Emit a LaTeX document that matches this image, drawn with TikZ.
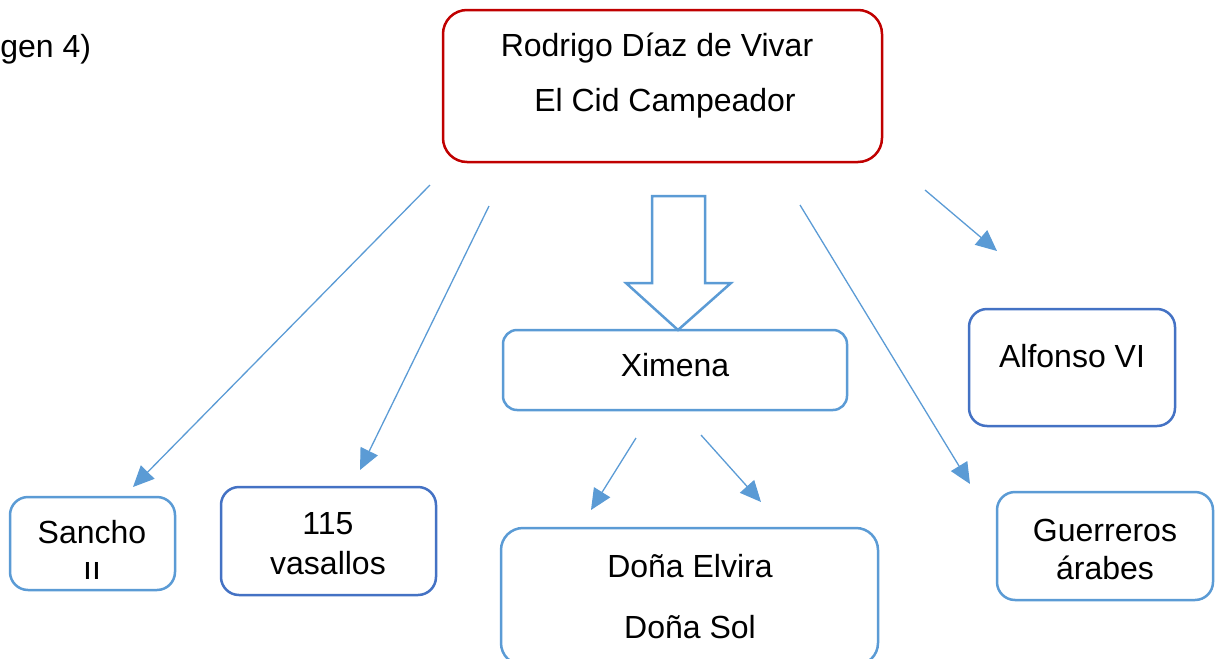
\documentclass[tikz,border=0pt]{standalone}
\usepackage{fontspec}
\setmainfont{Liberation Sans}
\usetikzlibrary{arrows.meta}
\definecolor{lblue}{HTML}{5B9BD5}
\definecolor{dblue}{HTML}{4472C4}
\definecolor{redb}{HTML}{C00000}
\tikzset{
  box/.style={draw=lblue, line width=1.25pt, rounded corners=9pt, fill=white, inner sep=0pt},
  dbox/.style={box, draw=dblue},
  rbox/.style={box, draw=redb, rounded corners=12pt},
  lbl/.style={font=\fontsize{16}{18}\selectfont, inner sep=0pt},
  conn/.style={draw=lblue, line width=0.65pt, -{Triangle[length=10.5pt,width=9.5pt]}},
  blockarrow/.style={draw=lblue, line width=1.25pt, fill=white, line join=miter}
}
\begin{document}
\begin{tikzpicture}[x=0.5pt,y=-0.5pt]
\useasboundingbox (0,0) rectangle (1222,659);
\clip (0,0) rectangle (1222,659);
% top box
\node[rbox, minimum width=219.5pt, minimum height=76pt] (cid) at (662.5,86) {};
\node[lbl] (cid1) at (657,48) {Rodrigo Díaz de Vivar};
\node[lbl] (cid2) at (665,103) {El Cid Campeador};
\node[lbl, anchor=west] (img) at (0,49) {gen 4)};
% boxes
\node[box, rounded corners=7pt, minimum width=172pt, minimum height=40pt] (xim) at (675,370) {};
\node[lbl] (ximt) at (675,365) {Ximena};
\node[dbox, minimum width=103pt, minimum height=58.5pt] (alf) at (1072,367.5) {};
\node[lbl] (alft) at (1072,356) {Alfonso VI};
\node[box, minimum width=82.5pt, minimum height=46.5pt] (san) at (92.5,543.5) {};
\node[lbl] (sant) at (92,532) {Sancho};
\begin{scope}
\clip (12,500) rectangle (173,578);
\node[lbl] (sant2) at (92,573) {II};
\end{scope}
\node[dbox, minimum width=107.5pt, minimum height=54pt] (vas) at (328.5,541) {};
\node[lbl] (vast1) at (328,524) {115};
\node[lbl] (vast2) at (328,563) {vasallos};
\node[box, rounded corners=11pt, minimum width=188.5pt, minimum height=68.5pt] (don) at (689.5,596.5) {};
\node[lbl] (dont1) at (690,566) {Doña Elvira};
\node[lbl] (dont2) at (690,627) {Doña Sol};
\node[box, minimum width=108pt, minimum height=54pt] (gue) at (1105,546) {};
\node[lbl] (guet1) at (1105,530) {Guerreros};
\node[lbl] (guet2) at (1105,568) {árabes};
% connector ends
\coordinate (a1s) at (430,185); \coordinate (a1e) at (133,487);
\coordinate (a2s) at (489,206); \coordinate (a2e) at (360,470);
\coordinate (a3s) at (800,205); \coordinate (a3e) at (970,484);
\coordinate (a4s) at (925,190); \coordinate (a4e) at (997,251);
\coordinate (a5s) at (636,438); \coordinate (a5e) at (591,510);
\coordinate (a6s) at (701,435); \coordinate (a6e) at (761,502);
\draw[conn] (a1s) -- (a1e);
\draw[conn] (a2s) -- (a2e);
\draw[conn] (a3s) -- (a3e);
\draw[conn] (a4s) -- (a4e);
\draw[conn] (a5s) -- (a5e);
\draw[conn] (a6s) -- (a6e);
% block arrow
\draw[blockarrow] (652,196) -- (705,196) -- (705,283) -- (731,283) -- (678,330) -- (626,283) -- (652,283) -- cycle;
\end{tikzpicture}
\end{document}
